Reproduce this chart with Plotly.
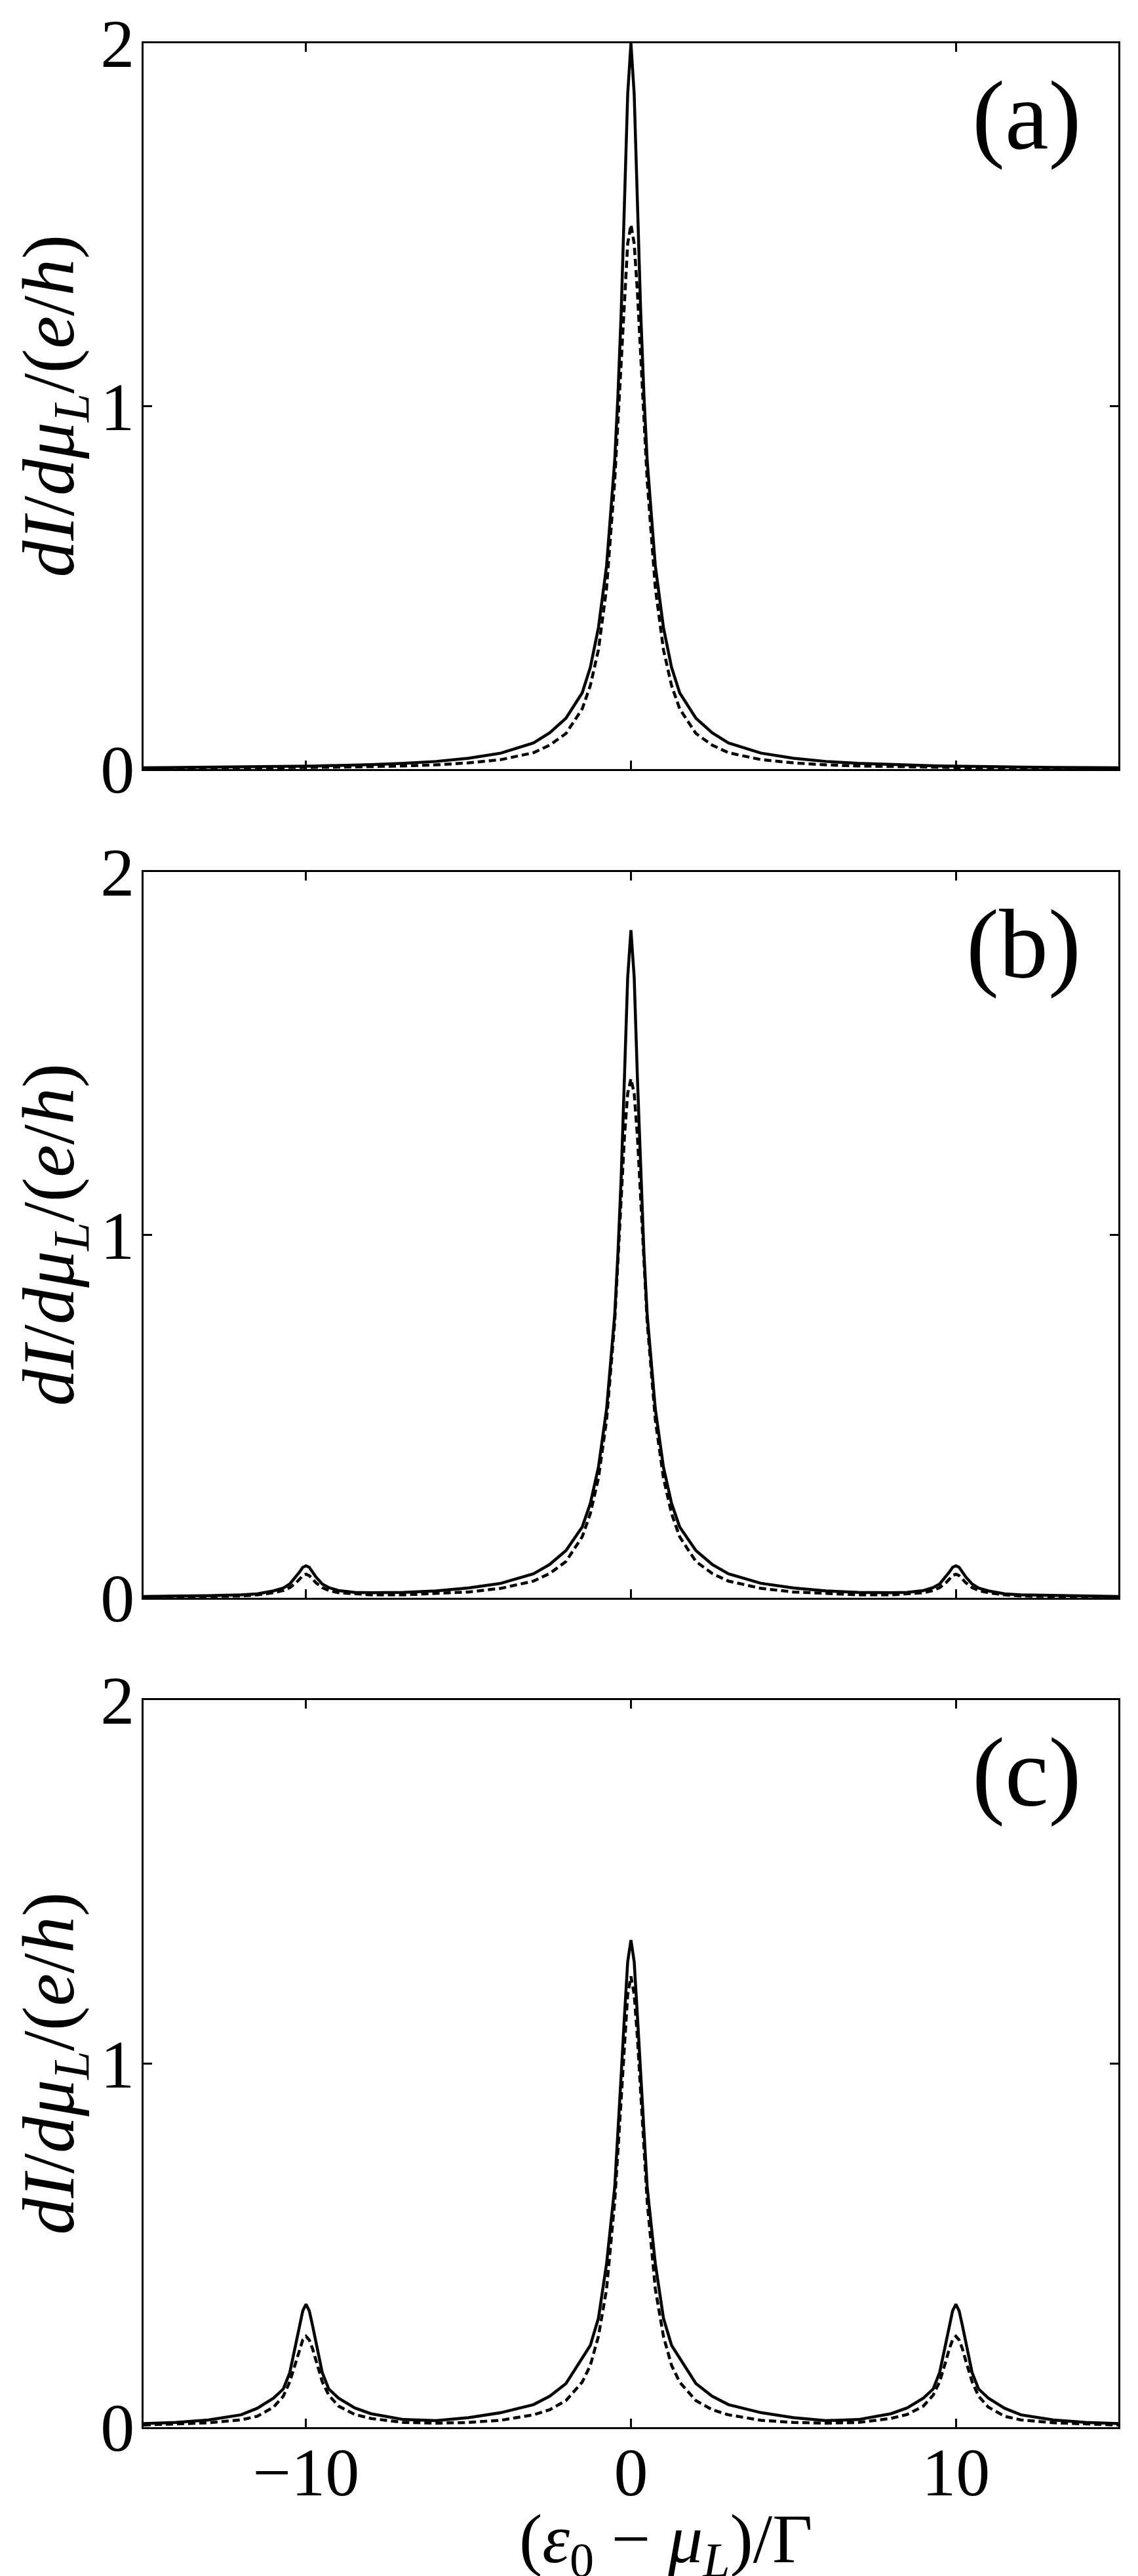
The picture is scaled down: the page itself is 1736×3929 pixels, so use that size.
import plotly.graph_objects as go

# shared x grid (epsilon_0 - mu_L)/Gamma
x_vals = [-15, -14, -13, -12, -11.5, -11, -10.7, -10.5, -10.3, -10.2, -10.1, -10, -9.9, -9.8, -9.7, -9.5, -9.3, -9, -8.5, -8,
          -7, -6, -5, -4, -3, -2.5, -2, -1.5, -1.25, -1, -0.75, -0.5, -0.4, -0.3, -0.2, -0.1,
          0,
          0.1, 0.2, 0.3, 0.4, 0.5, 0.75, 1, 1.25, 1.5, 2, 2.5, 3, 4, 5, 6, 7,
          8, 8.5, 9, 9.3, 9.5, 9.7, 9.8, 9.9, 10, 10.1, 10.2, 10.3, 10.5, 10.7, 11, 11.5, 12, 13, 14, 15]

# panel (a)
a_solid = [0.0035, 0.004, 0.0047, 0.0055, 0.006, 0.0066, 0.0069, 0.0072, 0.0074, 0.0076, 0.0077, 0.0079, 0.008, 0.0082, 0.0084, 0.0088, 0.0092, 0.0098, 0.011, 0.0123,
           0.016, 0.021, 0.030, 0.044, 0.072, 0.10, 0.14, 0.21, 0.28, 0.39, 0.56, 0.85, 1.03, 1.26, 1.56, 1.86,
           2.0,
           1.86, 1.56, 1.26, 1.03, 0.85, 0.56, 0.39, 0.28, 0.21, 0.14, 0.10, 0.072, 0.044, 0.030, 0.021, 0.016,
           0.0123, 0.011, 0.0098, 0.0092, 0.0088, 0.0084, 0.0082, 0.008, 0.0079, 0.0077, 0.0076, 0.0074, 0.0072, 0.0069, 0.0066, 0.006, 0.0055, 0.0047, 0.004, 0.0035]
a_dash = [0.0019, 0.0022, 0.0025, 0.0029, 0.0032, 0.0035, 0.0036, 0.0038, 0.0039, 0.004, 0.0041, 0.0042, 0.0043, 0.0044, 0.0045, 0.0047, 0.0049, 0.0052, 0.0059, 0.0066,
          0.0086, 0.0116, 0.017, 0.026, 0.045, 0.066, 0.098, 0.166, 0.23, 0.329, 0.499, 0.794, 0.96, 1.136, 1.313, 1.448,
          1.5,
          1.448, 1.313, 1.136, 0.96, 0.794, 0.499, 0.329, 0.23, 0.166, 0.098, 0.066, 0.045, 0.026, 0.017, 0.0116, 0.0086,
          0.0066, 0.0059, 0.0052, 0.0049, 0.0047, 0.0045, 0.0044, 0.0043, 0.0042, 0.0041, 0.004, 0.0039, 0.0038, 0.0036, 0.0035, 0.0032, 0.0029, 0.0025, 0.0022, 0.0019]

# panel (b)
b_solid = [0.0035, 0.004, 0.006, 0.008, 0.011, 0.019, 0.027, 0.038, 0.058, 0.071, 0.084, 0.088, 0.084, 0.071, 0.058, 0.038, 0.028, 0.02, 0.015, 0.014,
           0.015, 0.019, 0.027, 0.04, 0.066, 0.092, 0.13, 0.195, 0.26, 0.36, 0.52, 0.78, 0.95, 1.16, 1.43, 1.71,
           1.84,
           1.71, 1.43, 1.16, 0.95, 0.78, 0.52, 0.36, 0.26, 0.195, 0.13, 0.092, 0.066, 0.04, 0.027, 0.019, 0.015,
           0.014, 0.015, 0.02, 0.028, 0.038, 0.058, 0.071, 0.084, 0.088, 0.084, 0.071, 0.058, 0.038, 0.027, 0.019, 0.011, 0.008, 0.006, 0.004, 0.0035]
b_dash = [0.002, 0.0025, 0.0035, 0.005, 0.008, 0.014, 0.02, 0.028, 0.042, 0.052, 0.061, 0.065, 0.061, 0.052, 0.042, 0.028, 0.02, 0.014, 0.01, 0.008,
          0.008, 0.011, 0.016, 0.026, 0.046, 0.067, 0.1, 0.168, 0.232, 0.33, 0.49, 0.76, 0.93, 1.1, 1.27, 1.39,
          1.43,
          1.39, 1.27, 1.1, 0.93, 0.76, 0.49, 0.33, 0.232, 0.168, 0.1, 0.067, 0.046, 0.026, 0.016, 0.011, 0.008,
          0.008, 0.01, 0.014, 0.02, 0.028, 0.042, 0.052, 0.061, 0.065, 0.061, 0.052, 0.042, 0.028, 0.02, 0.014, 0.008, 0.005, 0.0035, 0.0025, 0.002]

# panel (c)
c_solid = [0.01, 0.013, 0.02, 0.034, 0.052, 0.08, 0.105, 0.15, 0.235, 0.28, 0.32, 0.338, 0.32, 0.28, 0.235, 0.15, 0.105, 0.08, 0.053, 0.037,
           0.021, 0.018, 0.026, 0.04, 0.062, 0.085, 0.12, 0.19, 0.225, 0.30, 0.45, 0.66, 0.80, 0.97, 1.13, 1.28,
           1.34,
           1.28, 1.13, 0.97, 0.80, 0.66, 0.45, 0.30, 0.225, 0.19, 0.12, 0.085, 0.062, 0.04, 0.026, 0.018, 0.021,
           0.037, 0.053, 0.08, 0.105, 0.15, 0.235, 0.28, 0.32, 0.338, 0.32, 0.28, 0.235, 0.15, 0.105, 0.08, 0.052, 0.034, 0.02, 0.013, 0.01]
c_dash = [0.006, 0.008, 0.012, 0.02, 0.03, 0.055, 0.085, 0.125, 0.184, 0.216, 0.24, 0.25, 0.24, 0.216, 0.184, 0.125, 0.088, 0.058, 0.035, 0.024,
          0.013, 0.011, 0.013, 0.019, 0.034, 0.048, 0.073, 0.124, 0.17, 0.25, 0.38, 0.62, 0.76, 0.91, 1.07, 1.19,
          1.24,
          1.19, 1.07, 0.91, 0.76, 0.62, 0.38, 0.25, 0.17, 0.124, 0.073, 0.048, 0.034, 0.019, 0.013, 0.011, 0.013,
          0.024, 0.035, 0.058, 0.088, 0.125, 0.184, 0.216, 0.24, 0.25, 0.24, 0.216, 0.184, 0.125, 0.085, 0.055, 0.03, 0.02, 0.012, 0.008, 0.006]

panel_labels = ["(a)", "(b)", "(c)"]
x_tick_vals = [-10, 0, 10]
x_tick_text = ["\u221210", "0", "10"]
y_tick_vals = [0, 1, 2]
y_tick_text = ["0", "1", "2"]

FONT = "Times New Roman, Liberation Serif, Tinos, serif"
W, H = 1736, 3929
LW = 4.5
ML, MR, MT, MB = 219, 30, 66, 227
PW, PH = W - ML - MR, H - MT - MB

fig = go.Figure()
series = [(a_solid, a_dash), (b_solid, b_dash), (c_solid, c_dash)]
for i, (s, d) in enumerate(series):
    xa = "x" if i == 0 else f"x{i+1}"
    ya = "y" if i == 0 else f"y{i+1}"
    fig.add_trace(go.Scatter(x=x_vals, y=d, mode="lines", xaxis=xa, yaxis=ya,
                             line=dict(color="black", width=LW, dash="11px,6px"), showlegend=False))
    fig.add_trace(go.Scatter(x=x_vals, y=s, mode="lines", xaxis=xa, yaxis=ya,
                             line=dict(color="black", width=LW), showlegend=False))

# panel pixel extents (top, bottom)
panel_px = [(66, 1173), (1330, 2437), (2593, 3702)]
domains = [[(H - MB - b) / PH, (H - MB - t) / PH] for (t, b) in panel_px]

ytitle = "<i>dI</i>/<i>d\u03bc</i><sub><i>L</i></sub>/(<i>e</i>/<i>h</i>)"
xtitle = "(<i>\u03b5</i><sub>0</sub> \u2212 <i>\u03bc</i><sub><i>L</i></sub>)/\u0393"

layout = dict(
    width=W, height=H,
    margin=dict(l=ML, r=MR, t=MT, b=MB),
    paper_bgcolor="white", plot_bgcolor="white",
    font=dict(family=FONT, color="black", size=104),
    showlegend=False,
)
for i in range(3):
    xk = "xaxis" if i == 0 else f"xaxis{i+1}"
    yk = "yaxis" if i == 0 else f"yaxis{i+1}"
    ya = "y" if i == 0 else f"y{i+1}"
    xa = "x" if i == 0 else f"x{i+1}"
    layout[xk] = dict(domain=[0, 1], anchor=ya, range=[-15, 15], automargin=False,
                      tickvals=x_tick_vals, ticktext=x_tick_text,
                      showticklabels=(i == 2), ticks="inside", ticklen=13, tickwidth=3,
                      ticklabelstandoff=-24,
                      tickcolor="black", showline=True, linewidth=3, linecolor="black",
                      mirror="ticks", showgrid=False, zeroline=False,
                      tickfont=dict(family=FONT, size=104))
    layout[yk] = dict(domain=domains[i], anchor=xa, range=[0, 2], automargin=False,
                      tickvals=y_tick_vals, ticktext=y_tick_text,
                      ticks="inside", ticklen=13, tickwidth=3,
                      ticklabelstandoff=-10,
                      tickcolor="black", showline=True, linewidth=3, linecolor="black",
                      mirror="ticks", showgrid=False, zeroline=False,
                      tickfont=dict(family=FONT, size=104))
fig.update_layout(**layout)

for i, lab in enumerate(panel_labels):
    xr = "x domain" if i == 0 else f"x{i+1} domain"
    yr = "y domain" if i == 0 else f"y{i+1} domain"
    fig.add_annotation(text=lab, x=0.963, y=0.90, xref=xr, yref=yr, xanchor="right", yanchor="middle",
                       showarrow=False, font=dict(family=FONT, size=150, color="black"))
    # y-axis title for each panel
    fig.add_annotation(text=ytitle, textangle=-90, x=(82 - ML) / PW, y=0.5,
                       xref="paper", yref=yr, xanchor="center", yanchor="middle",
                       showarrow=False, font=dict(family=FONT, size=112, color="black"))

# x-axis title
fig.add_annotation(text=xtitle, x=(1015 - ML) / PW, y=(H - MB - 3880) / PH, xref="paper", yref="paper",
                   xanchor="center", yanchor="middle", showarrow=False,
                   font=dict(family=FONT, size=106, color="black"))

fig.write_html("out.html")
